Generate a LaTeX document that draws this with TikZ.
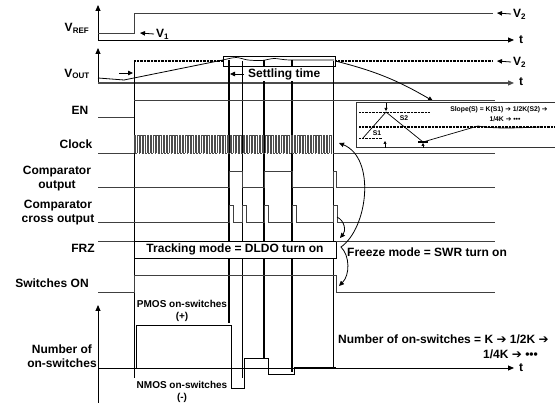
\documentclass[tikz,border=0pt]{standalone}
\usepackage{fontspec}
\setmainfont{Liberation Sans}
\newfontfamily\symfont{DejaVu Sans}
\usetikzlibrary{arrows.meta,positioning,calc}
\newcommand{\rarr}{{\symfont\bfseries ➔}}
\tikzset{
  lbl/.style={font=\bfseries\fontsize{12}{14}\selectfont, align=center, inner sep=0pt},
  note/.style={font=\bfseries\fontsize{10}{12.5}\selectfont, align=center, inner sep=0pt},
  tinylbl/.style={font=\bfseries\fontsize{6.8}{8}\selectfont, align=center, inner sep=0pt},
  axis/.style={line width=0.9pt, -{Triangle[length=6pt,width=5pt]}},
  sig/.style={line width=0.8pt, black!75},
  pin/.style={line width=0.8pt, -{Triangle[length=5pt,width=4.5pt]}},
  pinsmall/.style={line width=0.6pt, -{Triangle[length=3pt,width=3pt]}},
  heavy/.style={line width=1.5pt},
  light/.style={line width=0.8pt, dash pattern=on 1.2pt off 0.3pt},
  dotline/.style={line width=1.4pt, dash pattern=on 1pt off 0.4pt},
}

\begin{document}
\begin{tikzpicture}[x=1pt,y=-1pt]
  \useasboundingbox (0,0) rectangle (555,403);
  % V_REF
  \node[lbl] (vref) at (77,28) {V\textsubscript{REF}};
  \draw[axis] (98,40) -- (98,5);
  \draw[axis] (98,40) -- (514,40);
  \node[lbl] (tref) at (521,40) {t};
  \draw[sig] (98,33) -- (134,33) -- (134,13) -- (493,13);
  \node[lbl, anchor=west] (vone) at (156,34) {V\textsubscript{1}};
  \coordinate (vonetip) at (140,33);
  \draw[pin] ([xshift=-2pt]vone.west) -- (vonetip);
  \node[lbl, anchor=west] (vtwoa) at (513,14) {V\textsubscript{2}};
  \coordinate (vtwoatip) at (497,13);
  \draw[pin] ([xshift=-2pt]vtwoa.west) -- (vtwoatip);
  % V_OUT
  \node[lbl] (vout) at (77,74) {V\textsubscript{OUT}};
  \draw[axis] (98,83) -- (98,48);
  \draw[axis, black!70, line width=1.2pt] (98,83) -- (514,83);
  \node[lbl] (tout) at (521,82) {t};
  \draw[line width=0.8pt] (98,78) -- (124,80) -- (223,60);
  \coordinate (enstep) at (133,73);
  \draw[pin] (119,73) -- (enstep);
  \node[draw, line width=0.8pt, minimum width=112pt, minimum height=10pt, inner sep=0pt] (settle) at (279,61) {};
  \draw[line width=0.7pt] plot[smooth] coordinates {(223,60) (236,57.5) (248,60) (262,60.5) (274,58.5) (290,60) (334,60)};
  \draw[dotline] (134,61) -- (223,61);
  \draw[dotline] (335,61) -- (493,61);
  \node[lbl, anchor=west] (vtwob) at (513,62) {V\textsubscript{2}};
  \coordinate (vtwobtip) at (497,61);
  \draw[pin] ([xshift=-2pt]vtwob.west) -- (vtwobtip);
  \coordinate (zoomtip) at (433,101);
  \draw[pin] (settle.east) to[bend left=8] (zoomtip);
  % event lines
  \foreach \xx/\yy in {134/378, 242/378, 333/368}
    \draw[light] (\xx,61) -- (\xx,\yy);
  \foreach \xx/\yy in {229/323, 264/358, 292/372}
    \draw[heavy] (\xx,60) -- (\xx,\yy);
  \node[lbl, anchor=west, fill=white, inner ysep=1.5pt, inner xsep=1pt] (settxt) at (247,74) {Settling time};
  \coordinate (settip) at (230,74);
  \draw[pin] ([xshift=-3pt]settxt.west) -- (settip);
  % EN
  \node[lbl] (en) at (80,110) {EN};
  \draw[sig] (98,117) -- (134,117);
  \draw[sig] (134,100) -- (495,100);
  % Clock
  \node[lbl] (clk) at (76,144) {Clock};
  \draw[sig] (98,153) -- (134,153);
  \foreach \i in {0,...,61} {
    \pgfmathsetmacro{\xa}{134+\i*3.2}
    \draw[line width=0.5pt, black!70] (\xa,153) -- (\xa,135) -- (\xa+1.6,135) -- (\xa+1.6,153) -- (\xa+3.2,153);
  }
  \draw[sig] (333,153) -- (495,153);
  % Comparator output
  \node[lbl] (cmp) at (57,179) {Comparator\\output};
  \draw[sig] (98,187) -- (229,187) -- (229,171) -- (242,171) -- (242,187) -- (264,187)
    -- (264,171) -- (292,171) -- (292,187) -- (333,187) -- (333,171) -- (336,171)
    -- (336,187) -- (495,187);
  % Comparator cross output
  \node[lbl] (cross) at (58,213) {Comparator\\cross output};
  \draw[sig] (98,222) foreach \p in {229,242,264,292,333} {
    -- (\p,222) -- (\p,205) -- (\p+4,205) -- (\p+4,222) } -- (495,222);
  % FRZ
  \node[lbl] (frz) at (83,248) {FRZ};
  \draw[sig] (98,241) -- (134,241);
  \node[lbl, draw, fill=white, line width=0.8pt, minimum width=202pt, minimum height=17pt] (track) at (235,249.5) {Tracking mode = DLDO turn on};
  \draw[sig] (336,241) -- (495,241);
  \node[lbl, anchor=west] (frztxt) at (347,252) {Freeze mode = SWR turn on};
  % Switches ON
  \node[lbl] (swon) at (52,283) {Switches ON};
  \draw[sig] (98,292) -- (134,292) -- (134,275) -- (336,275) -- (336,292) -- (495,292);
  % freeze arrows
  \coordinate (clkend) at (339,143);
  \coordinate (swstep) at (339,286);
  \draw[line width=0.8pt, {Triangle[length=5pt,width=4.5pt]}-{Triangle[length=5pt,width=4.5pt]}]
    (clkend) .. controls (376,158) and (368,228) .. (341,247)
    .. controls (350,256) and (350,275) .. (swstep);
  \coordinate (crossend) at (337,217);
  \coordinate (frzstep) at (340,238);
  \draw[pin] (crossend) .. controls (345,221) and (346,231) .. (frzstep);
  % Number of on-switches
  \node[lbl] (num) at (62,356) {Number of\\on-switches};
  \draw[axis] (98,403) -- (98,305);
  \draw[axis] (98,368) -- (514,368);
  \node[lbl] (tnum) at (521,368) {t};
  \draw[line width=0.8pt] (98,368) -- (136,368) -- (136,325) -- (231,325) -- (231,388)
    -- (244,388) -- (244,358) -- (268,358) -- (268,374) -- (294,374) -- (294,367) -- (336,367);
  \node[note] (pmos) at (182,311) {PMOS on-switches\\(+)};
  \node[note] (nmos) at (182,392) {NMOS on-switches\\(-)};
  \node[lbl, anchor=west] (numtxt) at (338,339) {Number of on-switches = K \rarr{} 1/2K \rarr};
  \node[lbl, anchor=west] (numtxtb) at (483,354) {1/4K \rarr{} •••};
  % inset: slope detail
  \draw[line width=1pt, black!80] (556,103) -- (356,103) -- (356,148) -- (556,148);
  \draw[dotline, line width=0.8pt] (359,112) -- (430,112);
  \draw[dotline, line width=0.8pt] (359,138) -- (382,138);
  \draw[dotline] (359,127) -- (556,127);
  \draw[line width=0.7pt] (363,138) -- (386,112) -- (423,142) -- (478,126)
    .. controls (495,129) and (515,128) .. (540,127);
  \draw[line width=1.4pt] (418,142) -- (428,142);
  \draw[pinsmall] (386,103) -- (386,111);
  \draw[pinsmall] (385,148) -- (385,141);
  \draw[pinsmall] (423,148) -- (423,143);
  \node[tinylbl] (sone) at (377,133) {S1};
  \node[tinylbl] (stwo) at (404,118) {S2};
  \node[tinylbl] (slope) at (499,110) {Slope(S) = K(S1) \rarr{} 1/2K(S2) \rarr};
  \node[tinylbl] (slopeb) at (505,119) {1/4K \rarr{} •••};
\end{tikzpicture}
\end{document}
